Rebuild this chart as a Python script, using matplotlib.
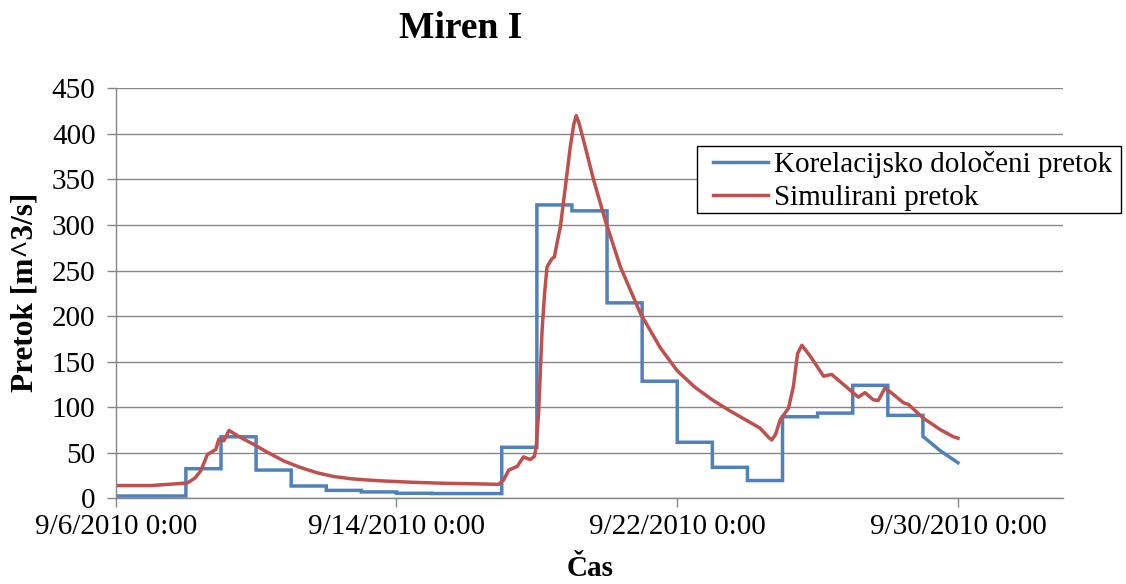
import numpy as np
import matplotlib
matplotlib.use("Agg")
import matplotlib.pyplot as plt
from matplotlib.patches import Rectangle
from datetime import datetime, timedelta

plt.rcParams['font.family'] = ['Liberation Serif', 'DejaVu Serif']

title = "Miren I"
x_label = "Čas"
y_label = "Pretok [m^3/s]"
series_names = ["Korelacijsko določeni pretok", "Simulirani pretok"]
start_date = datetime(2010, 9, 6)

# Correlation-derived flow: daily step values (day index from 9/6/2010)
blue_step_days = list(range(0, 23))
blue_step_vals = [2.5, 2.5, 32.5, 67.5, 31, 13.5, 8.7, 7, 5.5, 5.2, 5.2, 56,
                  322, 315.5, 214.5, 128.5, 61.5, 34, 19.5, 89.5, 93.5, 124, 91]
# hourly tail at the end
blue_tail_days = [23.0, 23.5, 24.0]
blue_tail_vals = [68, 52, 39]

# Simulated flow
red_days = [0, 1.0, 1.75, 2.05, 2.25, 2.42, 2.55, 2.61, 2.85, 2.94, 3.08, 3.23,
            3.5, 3.94, 4.3, 4.79, 5.25, 5.74, 6.2, 6.69, 7.2, 7.64, 8.5, 9.44,
            10.39, 10.91, 11.05, 11.2, 11.44, 11.62, 11.81, 11.93, 11.98, 12.05,
            12.1, 12.15, 12.22, 12.29, 12.43, 12.5, 12.6, 12.67, 12.81, 12.95,
            13.05, 13.12, 13.2, 13.33, 13.62, 13.95, 14.38, 14.95, 15.52, 16.0,
            16.5, 17.0, 17.5, 18.0, 18.36, 18.6, 18.69, 18.8, 18.93, 19.17, 19.31,
            19.43, 19.55, 19.79, 20.17, 20.4, 20.69, 21.16, 21.35, 21.59, 21.73,
            21.92, 22.16, 22.44, 22.59, 23.01, 23.49, 23.87, 24.0]
red_vals = [14, 14, 16, 17, 22, 30, 42, 48, 53.6, 65, 63, 74.5,
            68, 59, 51, 41, 34, 28, 24, 21.5, 20, 19, 17.5, 16.4,
            15.8, 15.3, 20, 31, 35, 45.5, 42.5, 46, 56, 94,
            140, 185, 225, 254, 263, 265, 285, 298, 341, 385,
            410, 420, 412, 393, 349, 305, 254, 203, 165, 140,
            122, 108, 96, 85, 77, 67, 64, 70, 86, 99, 123,
            159, 168, 156, 134, 136, 126.5, 111, 116, 108, 107.5,
            121, 114, 105, 103, 88, 75.5, 67.5, 66]

x_tick_days = [0, 8, 16, 24]
y_ticks = [0, 50, 100, 150, 200, 250, 300, 350, 400, 450]

def to_dates(days):
    return [start_date + timedelta(days=float(d)) for d in days]

# build step polyline for blue
bx, by = [], []
for d, v in zip(blue_step_days, blue_step_vals):
    bx += [d, d + 1]
    by += [v, v]
bx += blue_tail_days
by += blue_tail_vals

W, H = 1126, 584
fig = plt.figure(figsize=(W / 100, H / 100), dpi=100)
ax = fig.add_axes([115.7 / W, 1 - 498.3 / H, (1063.3 - 115.7) / W, (498.3 - 88.3) / H])

grid_c = '#868686'
l1, = ax.plot(to_dates(bx), by, color='#4F81BD', lw=2.5, solid_joinstyle='miter')
l2, = ax.plot(to_dates(red_days), red_vals, color='#C0504D', lw=2.5, solid_joinstyle='round')

ax.set_xlim(start_date, start_date + timedelta(days=27))
ax.set_ylim(0, 450)
ax.set_yticks(y_ticks)
ax.set_xticks(to_dates(x_tick_days))
ax.set_xticklabels([f"{d.month}/{d.day}/{d.year} 0:00" for d in to_dates(x_tick_days)])
ax.yaxis.grid(True, color=grid_c, lw=1.0)
ax.set_axisbelow(True)
for s in ['top', 'right']:
    ax.spines[s].set_visible(False)
for s in ['left', 'bottom']:
    ax.spines[s].set_color(grid_c)
    ax.spines[s].set_linewidth(1.0)
ax.tick_params(axis='both', direction='out', length=6.5, width=1.0, color=grid_c,
               labelsize=21, labelcolor='black')
ax.tick_params(axis='y', pad=8)
ax.tick_params(axis='x', pad=5)

fig.text(461 / W, 1 - 28 / H, title, ha='center', va='center', fontsize=27, fontweight='bold')
fig.text(590 / W, 1 - 569 / H, x_label, ha='center', va='center', fontsize=21, fontweight='bold')
fig.text(25 / W, 1 - 292 / H, y_label, ha='center', va='center', rotation=90,
         fontsize=22.5, fontweight='bold')

# legend frame (white box with black border)
fig.patches.append(Rectangle((697 / W, 1 - 213 / H), 424 / W, 67 / H,
                             transform=fig.transFigure, facecolor='white',
                             edgecolor='black', lw=1.0, zorder=5))
leg = fig.legend([l1, l2], series_names, loc='upper left',
                 bbox_to_anchor=(713 / W, 1 - 151 / H), fontsize=21, frameon=False,
                 borderpad=0, labelspacing=0.22,
                 handlelength=1.9, handletextpad=0.2, borderaxespad=0)
leg.set_zorder(6)

fig.savefig('out.png', dpi=100)
